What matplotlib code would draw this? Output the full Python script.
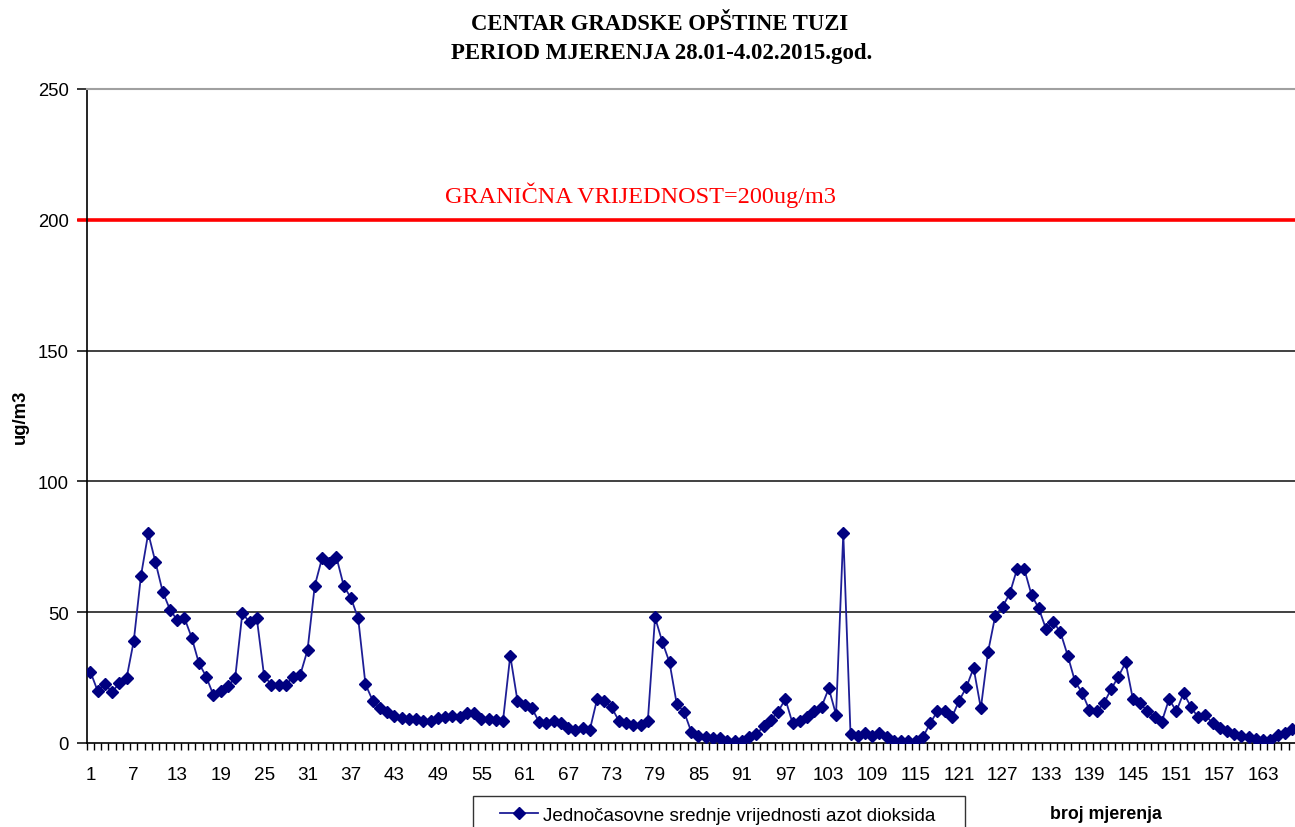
import matplotlib
matplotlib.use("Agg")
import matplotlib.pyplot as plt
from matplotlib.ticker import FixedLocator
from matplotlib.legend_handler import HandlerLine2D
import numpy as np

title_lines = ["CENTAR GRADSKE OPŠTINE TUZI", "PERIOD MJERENJA 28.01-4.02.2015.god."]
series_name = "Jednočasovne srednje vrijednosti azot dioksida"
limit_label = "GRANIČNA VRIJEDNOST=200ug/m3"
limit_value = 200
y_label = "ug/m3"
x_label = "broj mjerenja"
y_ticks = [0, 50, 100, 150, 200, 250]

no2 = [27.3, 20.0, 22.5, 19.4, 22.9, 24.7, 39.0, 64.0, 80.2, 69.1,
       57.8, 51.0, 47.0, 47.8, 40.3, 30.5, 25.4, 18.3, 20.0, 21.9,
       24.7, 49.7, 46.1, 47.6, 25.7, 22.3, 22.0, 22.3, 25.1, 26.1,
       35.5, 60.1, 70.6, 68.7, 71.0, 60.1, 55.4, 47.6, 22.5, 16.2,
       13.3, 11.7, 10.4, 9.7, 9.2, 9.0, 8.3, 8.3, 9.7, 9.8,
       10.4, 9.8, 11.3, 11.3, 9.2, 9.2, 8.9, 8.5, 33.4, 16.1,
       14.5, 13.3, 7.9, 7.6, 8.3, 7.6, 5.7, 5.1, 5.7, 5.1,
       16.8, 16.1, 13.6, 8.5, 7.6, 7.0, 7.0, 8.3, 48.0, 38.7,
       30.8, 14.9, 12.0, 4.3, 2.8, 2.2, 1.9, 1.9, 0.9, 0.9,
       0.9, 2.2, 3.4, 6.4, 8.8, 12.0, 16.8, 7.5, 8.5, 10.1,
       12.1, 13.9, 20.9, 10.8, 80.2, 3.4, 2.8, 3.7, 2.8, 3.7,
       2.2, 0.9, 0.9, 0.9, 0.9, 2.2, 7.6, 12.1, 12.1, 9.8,
       16.2, 21.3, 28.7, 13.3, 34.9, 48.7, 52.1, 57.2, 66.5, 66.5,
       56.6, 51.5, 43.6, 46.4, 42.3, 33.4, 23.6, 19.1, 12.6, 12.1,
       15.2, 20.6, 25.4, 30.8, 16.8, 15.2, 12.1, 9.8, 8.2, 16.8,
       12.1, 19.1, 13.9, 9.8, 10.7, 7.6, 5.7, 4.7, 3.4, 2.8,
       2.2, 1.5, 1.1, 1.1, 3.1, 3.7, 5.4]
x = np.arange(1, len(no2) + 1)

W, H = 1295, 828
fig = plt.figure(figsize=(W / 100, H / 100), dpi=100)
fig.patch.set_facecolor("white")
ax = fig.add_axes([86.7 / W, 1 - 744 / H, 1 - 86.7 / W, (744 - 90) / H])

sans = "Liberation Sans"
serif = "Liberation Serif"

# gridlines
for v in [50, 100, 150]:
    ax.axhline(v, color="#202020", lw=1.2, zorder=1)

# limit line
ax.axhline(limit_value, xmin=-8 / (W - 86.7), xmax=1, color="#ff0000", lw=2.6,
           zorder=2, clip_on=False)

ax.plot(x, no2, color="#1e1e96", lw=1.3, marker="D", markersize=6.4,
        markerfacecolor="#000080", markeredgecolor="#000080", zorder=3,
        label=series_name)

ax.set_xlim(0.5, 0.5 + (W - 86.7) / 7.24)
ax.set_ylim(0, 250)

ax.spines["right"].set_visible(False)
ax.spines["top"].set_color("#a0a0a0")
ax.spines["top"].set_linewidth(1.5)
ax.spines["left"].set_color("black")
ax.spines["bottom"].set_color("black")
ax.spines["left"].set_linewidth(1.2)
ax.spines["bottom"].set_linewidth(1.2)

ax.yaxis.set_major_locator(FixedLocator(y_ticks))
ax.tick_params(axis="y", which="major", length=7, width=1.1, direction="out",
               labelsize=13.3, pad=6)
for lbl in ax.get_yticklabels():
    lbl.set_fontfamily(sans)

xt = list(range(1, len(no2) + 1, 6))
ax.xaxis.set_major_locator(FixedLocator(xt))
ax.set_xticklabels([str(t) for t in xt], fontfamily=sans, fontsize=13.6)
ax.xaxis.set_minor_locator(FixedLocator(np.arange(0.5, len(no2) + 1, 1)))
ax.tick_params(axis="x", which="major", length=0, pad=16.5)
ax.tick_params(axis="x", which="minor", length=5, width=1.0, direction="out")

fig.text(660 / W, 1 - 25 / H, title_lines[0], ha="center", va="center",
         fontfamily=serif, fontweight="bold", fontsize=16.3)
fig.text(662 / W, 1 - 53 / H, title_lines[1], ha="center", va="center",
         fontfamily=serif, fontweight="bold", fontsize=16.5)

fig.text(445 / W, 1 - 195 / H, limit_label, ha="left", va="center",
         fontfamily=serif, fontsize=17.5, color="#ff0000")

fig.text(20 / W, 1 - 417 / H, y_label, ha="center", va="center", rotation=90,
         fontfamily=sans, fontweight="bold", fontsize=13.3)
fig.text(1050 / W, 1 - 815 / H, x_label, ha="left", va="center",
         fontfamily=sans, fontweight="bold", fontsize=12.8)


class OffsetLineHandler(HandlerLine2D):
    def get_xdata(self, legend, xdescent, ydescent, width, height, fontsize):
        xd = np.array([-xdescent + 0.31 * width, -xdescent + width])
        return xd, np.array([xd.mean()])


leg = fig.legend(loc="upper left",
                 bbox_to_anchor=(473 / W, 1 - 797 / H, 492 / W, 0),
                 mode="expand", borderaxespad=0.0, frameon=True,
                 fancybox=False, borderpad=0.55,
                 handlelength=2.9, handletextpad=0.26,
                 handler_map={matplotlib.lines.Line2D: OffsetLineHandler()},
                 prop={"family": sans, "size": 13.6})
leg.get_frame().set_edgecolor("black")
leg.get_frame().set_linewidth(1.0)

fig.savefig("out.png", dpi=100)
